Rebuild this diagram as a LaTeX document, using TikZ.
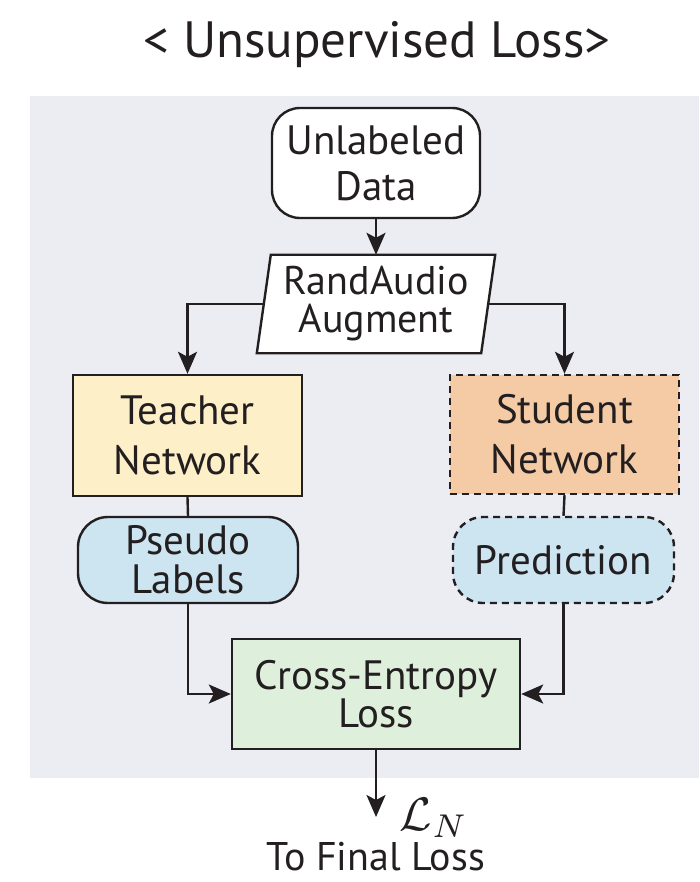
\documentclass[tikz,border=0pt]{standalone}
\usepackage{fontspec}
\setmainfont{PT Sans}
\usetikzlibrary{arrows.meta,backgrounds}
\definecolor{ink}{HTML}{231F20}
\definecolor{panel}{HTML}{ECEDF3}
\definecolor{teachfill}{HTML}{FDF0C8}
\definecolor{studfill}{HTML}{F5CBA6}
\definecolor{outfill}{HTML}{CDE4F1}
\definecolor{lossfill}{HTML}{DEEFDC}
\tikzset{
  box/.style={draw=ink, line width=2.4pt, align=center, inner sep=0pt, text=ink,
    font=\fontsize{41}{50}\selectfont},
  dashedline/.style={dash pattern=on 7pt off 5pt},
  link/.style={draw=ink, line width=2.4pt},
  arr/.style={link, -{Stealth[length=22pt, width=19pt, inset=5pt]}},
}
\begin{document}
\begin{tikzpicture}[x=1pt, y=-1pt]
  \useasboundingbox (0,0) rectangle (699,882);

  % title
  \node[text=ink, font=\fontsize{51}{56}\selectfont] (title) at (377,45) {< Unsupervised Loss>};

  % input and augmentation
  \node[box, fill=white, rounded corners=28pt, minimum width=208pt, minimum height=110pt,
        font=\fontsize{41}{46}\selectfont] (data) at (376,163) {Unlabeled\\Data};
  \node[align=center, inner sep=0pt, minimum width=224pt, minimum height=98pt, text=ink,
        font=\fontsize{40}{38}\selectfont] (aug) at (376,304) {RandAudio\\Augment};

  % teacher and student branches
  \node[box, fill=teachfill, minimum width=229pt, minimum height=121pt] (teacher) at (187.5,435.5) {Teacher\\Network};
  \node[box, dashedline, fill=studfill, minimum width=229pt, minimum height=119pt] (student) at (564.5,434.5) {Student\\Network};
  \node[box, fill=outfill, rounded corners=30pt, minimum width=220pt, minimum height=86pt,
        font=\fontsize{41}{39}\selectfont] (pseudo) at (188,560) {Pseudo\\Labels};
  \node[box, dashedline, fill=outfill, rounded corners=30pt, minimum width=221pt, minimum height=86pt] (pred) at (563.5,560) {Prediction};

  % loss
  \node[box, fill=lossfill, minimum width=288pt, minimum height=110pt,
        font=\fontsize{41}{37}\selectfont] (ce) at (376,694) {Cross-Entropy\\Loss};
  \coordinate (out) at (376,817);
  \node[text=ink, font=\fontsize{10}{12}\selectfont, scale=4.7] (ln) at (434,818) {$\mathcal{L}_N$};
  \node[text=ink, font=\fontsize{40}{46}\selectfont] (final) at (376,857) {To Final Loss};

  % grey panel and the slanted augmentation box, behind the text
  \begin{scope}[on background layer]
    \fill[panel] (30,96) rectangle (699,778);
    \filldraw[fill=white, draw=ink, line width=2.4pt, line join=miter]
      ([xshift=7pt]aug.north west) -- ([xshift=7pt]aug.north east)
      -- ([xshift=-7pt]aug.south east) -- ([xshift=-7pt]aug.south west) -- cycle;
  \end{scope}

  % connectors
  \draw[arr] (data.south) -- (aug.north);
  \draw[arr] (aug.west) -| (teacher.north);
  \draw[arr] (aug.east) -| (student.north);
  \draw[link] (teacher.south) -- (pseudo.north);
  \draw[link] (student.south) -- (pred.north);
  \draw[arr] (pseudo.south) |- (ce.west);
  \draw[arr] (pred.south) |- (ce.east);
  \draw[arr] (ce.south) -- (out);
\end{tikzpicture}
\end{document}
